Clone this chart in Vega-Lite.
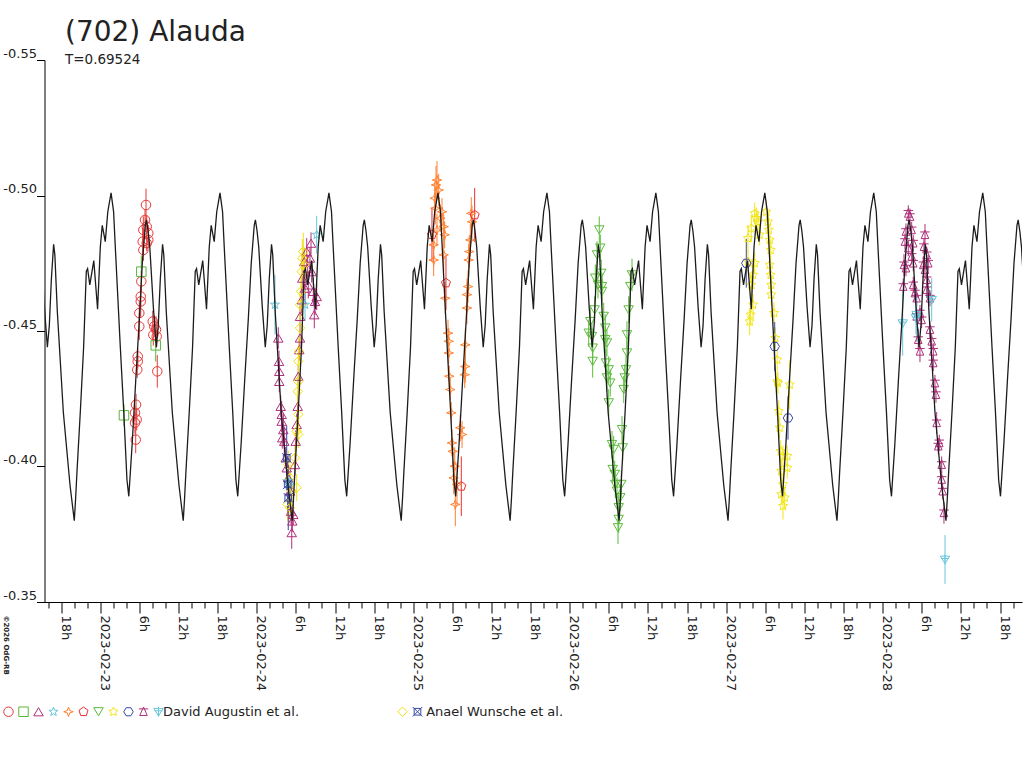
{
  "$schema": "https://vega.github.io/schema/vega-lite/v6.json",
  "autosize": "none",
  "width": 977.5,
  "height": 542,
  "padding": {"left": 44.5, "top": 60, "right": 2, "bottom": 166},
  "background": "white",
  "title": {
    "text": "(702) Alauda",
    "subtitle": "T=0.69524",
    "anchor": "start",
    "frame": "group",
    "dx": 20.5,
    "offset": -19,
    "font": "DejaVu Sans",
    "fontSize": 28,
    "fontWeight": "normal",
    "color": "#222222",
    "subtitleFont": "DejaVu Sans",
    "subtitleFontSize": 13.5,
    "subtitleColor": "#222222",
    "subtitlePadding": 6
  },
  "config": {
    "view": {"stroke": null},
    "font": "DejaVu Sans",
    "axis": {"domainColor": "#000000", "tickColor": "#000000", "labelColor": "#222222", "grid": false, "labelFont": "DejaVu Sans", "labelFontSize": 13}
  },
  "datasets": {
    "model": [
      {"t": -9.12, "m": -0.481}, {"t": -8.58, "m": -0.459}, {"t": -8.12, "m": -0.444}, {"t": -7.82, "m": -0.452}, {"t": -7.51, "m": -0.469}, {"t": -7.16, "m": -0.482}, {"t": -6.97, "m": -0.478}, {"t": -6.59, "m": -0.457}, {"t": -5.67, "m": -0.42}, {"t": -4.64, "m": -0.393},
      {"t": -3.99, "m": -0.38}, {"t": -3.79, "m": -0.388}, {"t": -3.58, "m": -0.398}, {"t": -3.07, "m": -0.42}, {"t": -2.56, "m": -0.444}, {"t": -2.15, "m": -0.472}, {"t": -1.95, "m": -0.473}, {"t": -1.61, "m": -0.467}, {"t": -1.0, "m": -0.476}, {"t": -0.42, "m": -0.458}, {"t": 0.0, "m": -0.481}, {"t": 0.3, "m": -0.489}, {"t": 0.76, "m": -0.483}, {"t": 1.15, "m": -0.494}, {"t": 1.65, "m": -0.501}, {"t": 2.04, "m": -0.494}, {"t": 2.3, "m": -0.481}, {"t": 3.07, "m": -0.444}, {"t": 3.6, "m": -0.42}, {"t": 4.09, "m": -0.395}, {"t": 4.37, "m": -0.389}, {"t": 4.88, "m": -0.408}, {"t": 5.44, "m": -0.432}, {"t": 5.98, "m": -0.454}, {"t": 6.44, "m": -0.475}, {"t": 6.9, "m": -0.489}, {"t": 7.08, "m": -0.491}, {"t": 7.33, "m": -0.487}, {"t": 7.59, "m": -0.481}, {"t": 8.13, "m": -0.459}, {"t": 8.59, "m": -0.444}, {"t": 8.89, "m": -0.452}, {"t": 9.2, "m": -0.469}, {"t": 9.55, "m": -0.482}, {"t": 9.74, "m": -0.478}, {"t": 10.12, "m": -0.457}, {"t": 11.04, "m": -0.42}, {"t": 12.07, "m": -0.393},
      {"t": 12.72, "m": -0.38}, {"t": 12.92, "m": -0.388}, {"t": 13.13, "m": -0.398}, {"t": 13.64, "m": -0.42}, {"t": 14.15, "m": -0.444}, {"t": 14.56, "m": -0.472}, {"t": 14.76, "m": -0.473}, {"t": 15.1, "m": -0.467}, {"t": 15.71, "m": -0.476}, {"t": 16.29, "m": -0.458}, {"t": 16.71, "m": -0.481}, {"t": 17.01, "m": -0.489}, {"t": 17.47, "m": -0.483}, {"t": 17.86, "m": -0.494}, {"t": 18.36, "m": -0.501}, {"t": 18.75, "m": -0.494}, {"t": 19.01, "m": -0.481}, {"t": 19.78, "m": -0.444}, {"t": 20.31, "m": -0.42}, {"t": 20.8, "m": -0.395}, {"t": 21.08, "m": -0.389}, {"t": 21.59, "m": -0.408}, {"t": 22.15, "m": -0.432}, {"t": 22.69, "m": -0.454}, {"t": 23.15, "m": -0.475}, {"t": 23.61, "m": -0.489}, {"t": 23.79, "m": -0.491}, {"t": 24.04, "m": -0.487}, {"t": 24.3, "m": -0.481}, {"t": 24.84, "m": -0.459}, {"t": 25.3, "m": -0.444}, {"t": 25.6, "m": -0.452}, {"t": 25.91, "m": -0.469}, {"t": 26.26, "m": -0.482}, {"t": 26.45, "m": -0.478}, {"t": 26.83, "m": -0.457}, {"t": 27.75, "m": -0.42}, {"t": 28.78, "m": -0.393},
      {"t": 29.43, "m": -0.38}, {"t": 29.63, "m": -0.388}, {"t": 29.84, "m": -0.398}, {"t": 30.35, "m": -0.42}, {"t": 30.86, "m": -0.444}, {"t": 31.27, "m": -0.472}, {"t": 31.47, "m": -0.473}, {"t": 31.81, "m": -0.467}, {"t": 32.42, "m": -0.476}, {"t": 33.0, "m": -0.458}, {"t": 33.42, "m": -0.481}, {"t": 33.72, "m": -0.489}, {"t": 34.18, "m": -0.483}, {"t": 34.57, "m": -0.494}, {"t": 35.07, "m": -0.501}, {"t": 35.46, "m": -0.494}, {"t": 35.72, "m": -0.481}, {"t": 36.49, "m": -0.444}, {"t": 37.02, "m": -0.42}, {"t": 37.51, "m": -0.395}, {"t": 37.79, "m": -0.389}, {"t": 38.3, "m": -0.408}, {"t": 38.86, "m": -0.432}, {"t": 39.4, "m": -0.454}, {"t": 39.86, "m": -0.475}, {"t": 40.32, "m": -0.489}, {"t": 40.5, "m": -0.491}, {"t": 40.75, "m": -0.487}, {"t": 41.01, "m": -0.481}, {"t": 41.55, "m": -0.459}, {"t": 42.01, "m": -0.444}, {"t": 42.31, "m": -0.452}, {"t": 42.62, "m": -0.469}, {"t": 42.97, "m": -0.482}, {"t": 43.16, "m": -0.478}, {"t": 43.54, "m": -0.457}, {"t": 44.46, "m": -0.42}, {"t": 45.49, "m": -0.393},
      {"t": 46.15, "m": -0.38}, {"t": 46.35, "m": -0.388}, {"t": 46.56, "m": -0.398}, {"t": 47.07, "m": -0.42}, {"t": 47.58, "m": -0.444}, {"t": 47.99, "m": -0.472}, {"t": 48.19, "m": -0.473}, {"t": 48.53, "m": -0.467}, {"t": 49.14, "m": -0.476}, {"t": 49.72, "m": -0.458}, {"t": 50.14, "m": -0.481}, {"t": 50.44, "m": -0.489}, {"t": 50.9, "m": -0.483}, {"t": 51.29, "m": -0.494}, {"t": 51.79, "m": -0.501}, {"t": 52.18, "m": -0.494}, {"t": 52.44, "m": -0.481}, {"t": 53.21, "m": -0.444}, {"t": 53.74, "m": -0.42}, {"t": 54.23, "m": -0.395}, {"t": 54.51, "m": -0.389}, {"t": 55.02, "m": -0.408}, {"t": 55.58, "m": -0.432}, {"t": 56.12, "m": -0.454}, {"t": 56.58, "m": -0.475}, {"t": 57.04, "m": -0.489}, {"t": 57.22, "m": -0.491}, {"t": 57.47, "m": -0.487}, {"t": 57.73, "m": -0.481}, {"t": 58.27, "m": -0.459}, {"t": 58.73, "m": -0.444}, {"t": 59.03, "m": -0.452}, {"t": 59.34, "m": -0.469}, {"t": 59.69, "m": -0.482}, {"t": 59.88, "m": -0.478}, {"t": 60.26, "m": -0.457}, {"t": 61.18, "m": -0.42}, {"t": 62.21, "m": -0.393},
      {"t": 62.86, "m": -0.38}, {"t": 63.06, "m": -0.388}, {"t": 63.27, "m": -0.398}, {"t": 63.78, "m": -0.42}, {"t": 64.29, "m": -0.444}, {"t": 64.7, "m": -0.472}, {"t": 64.9, "m": -0.473}, {"t": 65.24, "m": -0.467}, {"t": 65.85, "m": -0.476}, {"t": 66.43, "m": -0.458}, {"t": 66.85, "m": -0.481}, {"t": 67.15, "m": -0.489}, {"t": 67.61, "m": -0.483}, {"t": 68.0, "m": -0.494}, {"t": 68.5, "m": -0.501}, {"t": 68.89, "m": -0.494}, {"t": 69.15, "m": -0.481}, {"t": 69.92, "m": -0.444}, {"t": 70.45, "m": -0.42}, {"t": 70.94, "m": -0.395}, {"t": 71.22, "m": -0.389}, {"t": 71.73, "m": -0.408}, {"t": 72.29, "m": -0.432}, {"t": 72.83, "m": -0.454}, {"t": 73.29, "m": -0.475}, {"t": 73.75, "m": -0.489}, {"t": 73.93, "m": -0.491}, {"t": 74.18, "m": -0.487}, {"t": 74.44, "m": -0.481}, {"t": 74.98, "m": -0.459}, {"t": 75.44, "m": -0.444}, {"t": 75.74, "m": -0.452}, {"t": 76.05, "m": -0.469}, {"t": 76.4, "m": -0.482}, {"t": 76.59, "m": -0.478}, {"t": 76.97, "m": -0.457}, {"t": 77.89, "m": -0.42}, {"t": 78.92, "m": -0.393},
      {"t": 79.57, "m": -0.38}, {"t": 79.77, "m": -0.388}, {"t": 79.98, "m": -0.398}, {"t": 80.49, "m": -0.42}, {"t": 81.0, "m": -0.444}, {"t": 81.41, "m": -0.472}, {"t": 81.61, "m": -0.473}, {"t": 81.95, "m": -0.467}, {"t": 82.56, "m": -0.476}, {"t": 83.14, "m": -0.458}, {"t": 83.56, "m": -0.481}, {"t": 83.86, "m": -0.489}, {"t": 84.32, "m": -0.483}, {"t": 84.71, "m": -0.494}, {"t": 85.21, "m": -0.501}, {"t": 85.6, "m": -0.494}, {"t": 85.86, "m": -0.481}, {"t": 86.63, "m": -0.444}, {"t": 87.16, "m": -0.42}, {"t": 87.65, "m": -0.395}, {"t": 87.93, "m": -0.389}, {"t": 88.44, "m": -0.408}, {"t": 89.0, "m": -0.432}, {"t": 89.54, "m": -0.454}, {"t": 90.0, "m": -0.475}, {"t": 90.46, "m": -0.489}, {"t": 90.64, "m": -0.491}, {"t": 90.89, "m": -0.487}, {"t": 91.15, "m": -0.481}, {"t": 91.69, "m": -0.459}, {"t": 92.15, "m": -0.444}, {"t": 92.45, "m": -0.452}, {"t": 92.76, "m": -0.469}, {"t": 93.11, "m": -0.482}, {"t": 93.3, "m": -0.478}, {"t": 93.68, "m": -0.457}, {"t": 94.6, "m": -0.42}, {"t": 95.63, "m": -0.393},
      {"t": 96.28, "m": -0.38}, {"t": 96.48, "m": -0.388}, {"t": 96.69, "m": -0.398}, {"t": 97.2, "m": -0.42}, {"t": 97.71, "m": -0.444}, {"t": 98.12, "m": -0.472}, {"t": 98.32, "m": -0.473}, {"t": 98.66, "m": -0.467}, {"t": 99.27, "m": -0.476}, {"t": 99.85, "m": -0.458}, {"t": 100.27, "m": -0.481}, {"t": 100.57, "m": -0.489}, {"t": 101.03, "m": -0.483}, {"t": 101.42, "m": -0.494}, {"t": 101.92, "m": -0.501}, {"t": 102.31, "m": -0.494}, {"t": 102.57, "m": -0.481}, {"t": 103.34, "m": -0.444}, {"t": 103.87, "m": -0.42}, {"t": 104.36, "m": -0.395}, {"t": 104.64, "m": -0.389}, {"t": 105.15, "m": -0.408}, {"t": 105.71, "m": -0.432}, {"t": 106.25, "m": -0.454}, {"t": 106.71, "m": -0.475}, {"t": 107.17, "m": -0.489}, {"t": 107.35, "m": -0.491}, {"t": 107.6, "m": -0.487}, {"t": 107.86, "m": -0.481}, {"t": 108.4, "m": -0.459}, {"t": 108.86, "m": -0.444}, {"t": 109.16, "m": -0.452}, {"t": 109.47, "m": -0.469}, {"t": 109.82, "m": -0.482}, {"t": 110.01, "m": -0.478}, {"t": 110.39, "m": -0.457}, {"t": 111.31, "m": -0.42}, {"t": 112.34, "m": -0.393},
      {"t": 112.99, "m": -0.38}, {"t": 113.19, "m": -0.388}, {"t": 113.4, "m": -0.398}, {"t": 113.91, "m": -0.42}, {"t": 114.42, "m": -0.444}, {"t": 114.83, "m": -0.472}, {"t": 115.03, "m": -0.473}, {"t": 115.37, "m": -0.467}, {"t": 115.98, "m": -0.476}, {"t": 116.56, "m": -0.458}, {"t": 116.98, "m": -0.481}, {"t": 117.28, "m": -0.489}, {"t": 117.74, "m": -0.483}, {"t": 118.13, "m": -0.494}, {"t": 118.63, "m": -0.501}, {"t": 119.02, "m": -0.494}, {"t": 119.28, "m": -0.481}, {"t": 120.05, "m": -0.444}, {"t": 120.58, "m": -0.42}, {"t": 121.07, "m": -0.395}, {"t": 121.35, "m": -0.389}, {"t": 121.86, "m": -0.408}, {"t": 122.42, "m": -0.432}, {"t": 122.96, "m": -0.454}, {"t": 123.42, "m": -0.475}, {"t": 123.88, "m": -0.489}, {"t": 124.06, "m": -0.491}, {"t": 124.31, "m": -0.487}, {"t": 124.57, "m": -0.481}, {"t": 125.11, "m": -0.459}, {"t": 125.57, "m": -0.444}, {"t": 125.87, "m": -0.452}, {"t": 126.18, "m": -0.469}, {"t": 126.53, "m": -0.482}, {"t": 126.72, "m": -0.478}, {"t": 127.1, "m": -0.457}, {"t": 128.02, "m": -0.42}, {"t": 129.05, "m": -0.393},
      {"t": 129.71, "m": -0.38}, {"t": 129.91, "m": -0.388}, {"t": 130.12, "m": -0.398}, {"t": 130.63, "m": -0.42}, {"t": 131.14, "m": -0.444}, {"t": 131.55, "m": -0.472}, {"t": 131.75, "m": -0.473}, {"t": 132.09, "m": -0.467}, {"t": 132.7, "m": -0.476}, {"t": 133.28, "m": -0.458}, {"t": 133.7, "m": -0.481}, {"t": 134.0, "m": -0.489}, {"t": 134.46, "m": -0.483}, {"t": 134.85, "m": -0.494}, {"t": 135.35, "m": -0.501}, {"t": 135.74, "m": -0.494}, {"t": 136.0, "m": -0.481}, {"t": 136.77, "m": -0.444}, {"t": 137.3, "m": -0.42}, {"t": 137.79, "m": -0.395}, {"t": 138.07, "m": -0.389}, {"t": 138.58, "m": -0.408}, {"t": 139.14, "m": -0.432}, {"t": 139.68, "m": -0.454}, {"t": 140.14, "m": -0.475}, {"t": 140.6, "m": -0.489}, {"t": 140.78, "m": -0.491}, {"t": 141.03, "m": -0.487}, {"t": 141.29, "m": -0.481}, {"t": 141.83, "m": -0.459}
    ],
    "obs": [
      {"s": "A1", "t": 5.43, "m": -0.4099, "e": 0.005}, {"s": "A1", "t": 5.32, "m": -0.4161, "e": 0.004}, {"s": "A1", "t": 5.58, "m": -0.4173, "e": 0.004}, {"s": "A1", "t": 5.32, "m": -0.4198, "e": 0.003}, {"s": "A1", "t": 5.48, "m": -0.4228, "e": 0.004}, {"s": "A1", "t": 5.67, "m": -0.4357, "e": 0.003}, {"s": "A1", "t": 5.74, "m": -0.4388, "e": 0.003}, {"s": "A1", "t": 5.74, "m": -0.4406, "e": 0.003}, {"s": "A1", "t": 5.98, "m": -0.4517, "e": 0.005}, {"s": "A1", "t": 5.98, "m": -0.4566, "e": 0.004}, {"s": "A1", "t": 6.2, "m": -0.4609, "e": 0.006}, {"s": "A1", "t": 6.2, "m": -0.4627, "e": 0.004}, {"s": "A1", "t": 6.29, "m": -0.4683, "e": 0.004}, {"s": "A1", "t": 6.6, "m": -0.4799, "e": 0.004}, {"s": "A1", "t": 6.5, "m": -0.483, "e": 0.005}, {"s": "A1", "t": 7.12, "m": -0.4824, "e": 0.003}, {"s": "A1", "t": 6.6, "m": -0.4873, "e": 0.005}, {"s": "A1", "t": 7.36, "m": -0.4861, "e": 0.003}, {"s": "A1", "t": 6.86, "m": -0.491, "e": 0.004}, {"s": "A1", "t": 7.01, "m": -0.4965, "e": 0.006}, {"s": "A1", "t": 7.36, "m": -0.4836, "e": 0.003}, {"s": "A1", "t": 7.12, "m": -0.4885, "e": 0.004}, {"s": "A1", "t": 8.04, "m": -0.4535, "e": 0.004}, {"s": "A1", "t": 8.28, "m": -0.4517, "e": 0.004}, {"s": "A1", "t": 8.54, "m": -0.4505, "e": 0.005}, {"s": "A1", "t": 8.13, "m": -0.4486, "e": 0.004}, {"s": "A1", "t": 8.65, "m": -0.448, "e": 0.004}, {"s": "A1", "t": 8.74, "m": -0.4351, "e": 0.006},
      {"s": "A2", "t": 6.29, "m": -0.4719, "e": 0.006}, {"s": "A2", "t": 8.5, "m": -0.4447, "e": 0.006}, {"s": "A2", "t": 3.63, "m": -0.4189, "e": 0.004},
      {"s": "A3", "t": 27.3, "m": -0.4474, "e": 0.004}, {"s": "A3", "t": 27.41, "m": -0.4388, "e": 0.004}, {"s": "A3", "t": 27.45, "m": -0.4351, "e": 0.004}, {"s": "A3", "t": 27.45, "m": -0.4314, "e": 0.004}, {"s": "A3", "t": 27.67, "m": -0.4222, "e": 0.004}, {"s": "A3", "t": 27.82, "m": -0.4192, "e": 0.005}, {"s": "A3", "t": 27.82, "m": -0.4167, "e": 0.004}, {"s": "A3", "t": 28.07, "m": -0.4136, "e": 0.006}, {"s": "A3", "t": 27.91, "m": -0.4106, "e": 0.004}, {"s": "A3", "t": 28.22, "m": -0.4093, "e": 0.005}, {"s": "A3", "t": 28.44, "m": -0.4032, "e": 0.004}, {"s": "A3", "t": 28.59, "m": -0.3995, "e": 0.004}, {"s": "A3", "t": 28.83, "m": -0.3958, "e": 0.005}, {"s": "A3", "t": 29.1, "m": -0.3909, "e": 0.004}, {"s": "A3", "t": 29.25, "m": -0.3835, "e": 0.005}, {"s": "A3", "t": 29.45, "m": -0.3799, "e": 0.004}, {"s": "A3", "t": 29.36, "m": -0.3756, "e": 0.006}, {"s": "A3", "t": 29.6, "m": -0.3823, "e": 0.004}, {"s": "A3", "t": 29.86, "m": -0.4007, "e": 0.004}, {"s": "A3", "t": 29.97, "m": -0.4093, "e": 0.004}, {"s": "A3", "t": 30.12, "m": -0.4155, "e": 0.004}, {"s": "A3", "t": 30.28, "m": -0.4222, "e": 0.004}, {"s": "A3", "t": 30.37, "m": -0.4333, "e": 0.004}, {"s": "A3", "t": 30.52, "m": -0.4431, "e": 0.004}, {"s": "A3", "t": 30.63, "m": -0.4474, "e": 0.004}, {"s": "A3", "t": 30.63, "m": -0.4554, "e": 0.004}, {"s": "A3", "t": 30.89, "m": -0.4615, "e": 0.005}, {"s": "A3", "t": 30.98, "m": -0.4695, "e": 0.005}, {"s": "A3", "t": 31.29, "m": -0.4756, "e": 0.005}, {"s": "A3", "t": 31.66, "m": -0.4793, "e": 0.005}, {"s": "A3", "t": 32.32, "m": -0.4824, "e": 0.004}, {"s": "A3", "t": 32.16, "m": -0.4769, "e": 0.004}, {"s": "A3", "t": 31.9, "m": -0.467, "e": 0.005}, {"s": "A3", "t": 32.42, "m": -0.4719, "e": 0.004}, {"s": "A3", "t": 32.67, "m": -0.4646, "e": 0.005}, {"s": "A3", "t": 32.93, "m": -0.4609, "e": 0.005}, {"s": "A3", "t": 32.82, "m": -0.456, "e": 0.005}, {"s": "A3", "t": 33.19, "m": -0.4627, "e": 0.005}, {"s": "A3", "t": 31.4, "m": -0.4658, "e": 0.005}, {"s": "A3", "t": 31.81, "m": -0.4732, "e": 0.005},
      {"s": "A4", "t": 26.79, "m": -0.4597, "e": 0.011}, {"s": "A4", "t": 33.19, "m": -0.4855, "e": 0.007}, {"s": "A4", "t": 31.4, "m": -0.4597, "e": 0.006}, {"s": "A4", "t": 29.1, "m": -0.3934, "e": 0.005}, {"s": "A4", "t": 28.83, "m": -0.3946, "e": 0.005},
      {"s": "A5", "t": 51.64, "m": -0.5057, "e": 0.007}, {"s": "A5", "t": 51.49, "m": -0.5039, "e": 0.007}, {"s": "A5", "t": 51.9, "m": -0.502, "e": 0.006}, {"s": "A5", "t": 51.29, "m": -0.499, "e": 0.006}, {"s": "A5", "t": 51.38, "m": -0.4953, "e": 0.006}, {"s": "A5", "t": 52.41, "m": -0.494, "e": 0.005}, {"s": "A5", "t": 52.15, "m": -0.4916, "e": 0.005}, {"s": "A5", "t": 52.67, "m": -0.4885, "e": 0.005}, {"s": "A5", "t": 51.64, "m": -0.4873, "e": 0.006}, {"s": "A5", "t": 52.82, "m": -0.4855, "e": 0.005}, {"s": "A5", "t": 51.13, "m": -0.4818, "e": 0.008}, {"s": "A5", "t": 52.67, "m": -0.4781, "e": 0.006}, {"s": "A5", "t": 51.13, "m": -0.4762, "e": 0.006}, {"s": "A5", "t": 52.91, "m": -0.4621, "e": 0.006}, {"s": "A5", "t": 53.33, "m": -0.4492, "e": 0.005}, {"s": "A5", "t": 53.44, "m": -0.4462, "e": 0.005}, {"s": "A5", "t": 53.44, "m": -0.4419, "e": 0.004}, {"s": "A5", "t": 53.53, "m": -0.4333, "e": 0.004}, {"s": "A5", "t": 53.68, "m": -0.4284, "e": 0.004}, {"s": "A5", "t": 53.83, "m": -0.4198, "e": 0.004}, {"s": "A5", "t": 53.94, "m": -0.4087, "e": 0.005}, {"s": "A5", "t": 54.05, "m": -0.4056, "e": 0.005}, {"s": "A5", "t": 54.36, "m": -0.4001, "e": 0.007}, {"s": "A5", "t": 54.2, "m": -0.3958, "e": 0.006}, {"s": "A5", "t": 54.45, "m": -0.386, "e": 0.008}, {"s": "A5", "t": 54.71, "m": -0.3934, "e": 0.008}, {"s": "A5", "t": 55.21, "m": -0.4143, "e": 0.005}, {"s": "A5", "t": 55.48, "m": -0.4118, "e": 0.005}, {"s": "A5", "t": 55.89, "m": -0.4339, "e": 0.005}, {"s": "A5", "t": 55.98, "m": -0.4369, "e": 0.006}, {"s": "A5", "t": 55.98, "m": -0.4449, "e": 0.006}, {"s": "A5", "t": 56.24, "m": -0.4585, "e": 0.006}, {"s": "A5", "t": 56.24, "m": -0.4634, "e": 0.006}, {"s": "A5", "t": 56.4, "m": -0.4664, "e": 0.006}, {"s": "A5", "t": 56.5, "m": -0.4762, "e": 0.006}, {"s": "A5", "t": 56.6, "m": -0.4793, "e": 0.006}, {"s": "A5", "t": 56.75, "m": -0.4836, "e": 0.006}, {"s": "A5", "t": 56.9, "m": -0.4934, "e": 0.006}, {"s": "A5", "t": 57.01, "m": -0.4903, "e": 0.006},
      {"s": "A6", "t": 50.87, "m": -0.4855, "e": 0.01}, {"s": "A6", "t": 53.02, "m": -0.4677, "e": 0.01}, {"s": "A6", "t": 57.42, "m": -0.4928, "e": 0.01}, {"s": "A6", "t": 55.37, "m": -0.3927, "e": 0.011},
      {"s": "A7", "t": 76.53, "m": -0.4873, "e": 0.005}, {"s": "A7", "t": 76.69, "m": -0.4806, "e": 0.005}, {"s": "A7", "t": 76.18, "m": -0.4781, "e": 0.005}, {"s": "A7", "t": 76.84, "m": -0.4713, "e": 0.005}, {"s": "A7", "t": 75.92, "m": -0.4695, "e": 0.005}, {"s": "A7", "t": 76.33, "m": -0.467, "e": 0.005}, {"s": "A7", "t": 76.95, "m": -0.4664, "e": 0.005}, {"s": "A7", "t": 76.95, "m": -0.4646, "e": 0.005}, {"s": "A7", "t": 75.83, "m": -0.4578, "e": 0.005}, {"s": "A7", "t": 75.15, "m": -0.4535, "e": 0.005}, {"s": "A7", "t": 77.21, "m": -0.4554, "e": 0.005}, {"s": "A7", "t": 74.91, "m": -0.4492, "e": 0.005}, {"s": "A7", "t": 77.45, "m": -0.4511, "e": 0.005}, {"s": "A7", "t": 75.41, "m": -0.448, "e": 0.005}, {"s": "A7", "t": 77.45, "m": -0.4468, "e": 0.005}, {"s": "A7", "t": 75.52, "m": -0.4437, "e": 0.006}, {"s": "A7", "t": 77.71, "m": -0.4456, "e": 0.005}, {"s": "A7", "t": 75.52, "m": -0.4388, "e": 0.006}, {"s": "A7", "t": 77.56, "m": -0.4382, "e": 0.005}, {"s": "A7", "t": 77.98, "m": -0.4357, "e": 0.005}, {"s": "A7", "t": 77.71, "m": -0.4327, "e": 0.005}, {"s": "A7", "t": 78.22, "m": -0.4308, "e": 0.005}, {"s": "A7", "t": 77.98, "m": -0.4235, "e": 0.005}, {"s": "A7", "t": 78.48, "m": -0.4081, "e": 0.005}, {"s": "A7", "t": 78.74, "m": -0.4063, "e": 0.005}, {"s": "A7", "t": 78.59, "m": -0.3989, "e": 0.005}, {"s": "A7", "t": 78.9, "m": -0.3971, "e": 0.005}, {"s": "A7", "t": 78.99, "m": -0.3934, "e": 0.005}, {"s": "A7", "t": 79.25, "m": -0.3909, "e": 0.005}, {"s": "A7", "t": 79.91, "m": -0.3934, "e": 0.005}, {"s": "A7", "t": 79.75, "m": -0.3885, "e": 0.005}, {"s": "A7", "t": 79.51, "m": -0.3848, "e": 0.005}, {"s": "A7", "t": 79.51, "m": -0.3805, "e": 0.005}, {"s": "A7", "t": 79.4, "m": -0.3774, "e": 0.006}, {"s": "A7", "t": 80.02, "m": -0.4136, "e": 0.005}, {"s": "A7", "t": 80.12, "m": -0.4069, "e": 0.005}, {"s": "A7", "t": 80.28, "m": -0.4284, "e": 0.005}, {"s": "A7", "t": 80.43, "m": -0.4327, "e": 0.005}, {"s": "A7", "t": 80.63, "m": -0.4357, "e": 0.005}, {"s": "A7", "t": 80.78, "m": -0.4419, "e": 0.005}, {"s": "A7", "t": 80.78, "m": -0.4486, "e": 0.005}, {"s": "A7", "t": 81.04, "m": -0.4578, "e": 0.005}, {"s": "A7", "t": 81.29, "m": -0.4664, "e": 0.006}, {"s": "A7", "t": 81.55, "m": -0.4707, "e": 0.006},
      {"s": "A8", "t": 100.61, "m": -0.4916, "e": 0.004}, {"s": "A8", "t": 100.37, "m": -0.4934, "e": 0.004}, {"s": "A8", "t": 100.87, "m": -0.4903, "e": 0.004}, {"s": "A8", "t": 102.15, "m": -0.494, "e": 0.004}, {"s": "A8", "t": 102.41, "m": -0.4903, "e": 0.004}, {"s": "A8", "t": 99.85, "m": -0.4879, "e": 0.005}, {"s": "A8", "t": 99.34, "m": -0.4842, "e": 0.005}, {"s": "A8", "t": 101.13, "m": -0.4855, "e": 0.004}, {"s": "A8", "t": 100.37, "m": -0.475, "e": 0.004}, {"s": "A8", "t": 100.11, "m": -0.4707, "e": 0.004}, {"s": "A8", "t": 99.85, "m": -0.467, "e": 0.004}, {"s": "A8", "t": 100.11, "m": -0.4597, "e": 0.004}, {"s": "A8", "t": 99.75, "m": -0.456, "e": 0.004}, {"s": "A8", "t": 99.6, "m": -0.4535, "e": 0.005}, {"s": "A8", "t": 99.34, "m": -0.4756, "e": 0.004}, {"s": "A8", "t": 102.52, "m": -0.4873, "e": 0.004}, {"s": "A8", "t": 102.67, "m": -0.4836, "e": 0.004}, {"s": "A8", "t": 102.82, "m": -0.4799, "e": 0.004}, {"s": "A8", "t": 102.67, "m": -0.4744, "e": 0.004}, {"s": "A8", "t": 102.82, "m": -0.4707, "e": 0.004}, {"s": "A8", "t": 102.91, "m": -0.467, "e": 0.004}, {"s": "A8", "t": 102.91, "m": -0.4634, "e": 0.004}, {"s": "A8", "t": 103.33, "m": -0.4566, "e": 0.004}, {"s": "A8", "t": 103.53, "m": -0.4474, "e": 0.004}, {"s": "A8", "t": 103.83, "m": -0.4394, "e": 0.004}, {"s": "A8", "t": 103.83, "m": -0.4314, "e": 0.004}, {"s": "A8", "t": 103.94, "m": -0.4308, "e": 0.004}, {"s": "A8", "t": 104.05, "m": -0.4204, "e": 0.004}, {"s": "A8", "t": 104.2, "m": -0.4143, "e": 0.004}, {"s": "A8", "t": 104.36, "m": -0.4056, "e": 0.004}, {"s": "A8", "t": 104.71, "m": -0.4038, "e": 0.004}, {"s": "A8", "t": 105.37, "m": -0.4038, "e": 0.004}, {"s": "A8", "t": 104.45, "m": -0.3983, "e": 0.004}, {"s": "A8", "t": 105.37, "m": -0.3995, "e": 0.004}, {"s": "A8", "t": 104.71, "m": -0.3934, "e": 0.004}, {"s": "A8", "t": 104.45, "m": -0.3897, "e": 0.004}, {"s": "A8", "t": 104.97, "m": -0.3885, "e": 0.004}, {"s": "A8", "t": 104.71, "m": -0.3854, "e": 0.005}, {"s": "A8", "t": 105.74, "m": -0.4302, "e": 0.009},
      {"s": "A9", "t": 99.08, "m": -0.475, "e": 0.009}, {"s": "A9", "t": 103.44, "m": -0.4443, "e": 0.009}, {"s": "A9", "t": 105.48, "m": -0.4179, "e": 0.008},
      {"s": "A10", "t": 123.93, "m": -0.4934, "e": 0.003}, {"s": "A10", "t": 124.19, "m": -0.4922, "e": 0.003}, {"s": "A10", "t": 123.57, "m": -0.4867, "e": 0.003}, {"s": "A10", "t": 124.45, "m": -0.4873, "e": 0.003}, {"s": "A10", "t": 123.42, "m": -0.483, "e": 0.003}, {"s": "A10", "t": 124.69, "m": -0.4824, "e": 0.003}, {"s": "A10", "t": 123.93, "m": -0.4806, "e": 0.003}, {"s": "A10", "t": 124.45, "m": -0.4775, "e": 0.003}, {"s": "A10", "t": 123.27, "m": -0.4744, "e": 0.004}, {"s": "A10", "t": 123.57, "m": -0.4732, "e": 0.003}, {"s": "A10", "t": 124.69, "m": -0.475, "e": 0.003}, {"s": "A10", "t": 123.16, "m": -0.4664, "e": 0.003}, {"s": "A10", "t": 124.69, "m": -0.467, "e": 0.003}, {"s": "A10", "t": 124.95, "m": -0.464, "e": 0.003}, {"s": "A10", "t": 125.21, "m": -0.4621, "e": 0.003}, {"s": "A10", "t": 125.21, "m": -0.4554, "e": 0.003}, {"s": "A10", "t": 125.72, "m": -0.4566, "e": 0.003}, {"s": "A10", "t": 125.98, "m": -0.4541, "e": 0.003}, {"s": "A10", "t": 125.46, "m": -0.4468, "e": 0.004}, {"s": "A10", "t": 125.72, "m": -0.4425, "e": 0.004}, {"s": "A10", "t": 126.49, "m": -0.4855, "e": 0.004}, {"s": "A10", "t": 126.33, "m": -0.4811, "e": 0.003}, {"s": "A10", "t": 126.75, "m": -0.4781, "e": 0.003}, {"s": "A10", "t": 126.23, "m": -0.4744, "e": 0.003}, {"s": "A10", "t": 126.99, "m": -0.475, "e": 0.003}, {"s": "A10", "t": 126.49, "m": -0.4726, "e": 0.003}, {"s": "A10", "t": 126.75, "m": -0.4689, "e": 0.003}, {"s": "A10", "t": 126.75, "m": -0.4652, "e": 0.003}, {"s": "A10", "t": 127.25, "m": -0.4621, "e": 0.003}, {"s": "A10", "t": 127.25, "m": -0.4505, "e": 0.003}, {"s": "A10", "t": 127.52, "m": -0.4462, "e": 0.003}, {"s": "A10", "t": 127.76, "m": -0.4425, "e": 0.003}, {"s": "A10", "t": 127.76, "m": -0.4382, "e": 0.003}, {"s": "A10", "t": 128.02, "m": -0.4308, "e": 0.003}, {"s": "A10", "t": 128.17, "m": -0.4265, "e": 0.003}, {"s": "A10", "t": 128.28, "m": -0.4161, "e": 0.004}, {"s": "A10", "t": 128.68, "m": -0.4087, "e": 0.003}, {"s": "A10", "t": 129.05, "m": -0.4007, "e": 0.003}, {"s": "A10", "t": 129.05, "m": -0.3952, "e": 0.003}, {"s": "A10", "t": 129.2, "m": -0.3909, "e": 0.003}, {"s": "A10", "t": 129.4, "m": -0.3829, "e": 0.004}, {"s": "A10", "t": 128.53, "m": -0.4075, "e": 0.003},
      {"s": "A11", "t": 123.07, "m": -0.4529, "e": 0.012}, {"s": "A11", "t": 125.21, "m": -0.456, "e": 0.01}, {"s": "A11", "t": 127.52, "m": -0.4615, "e": 0.008}, {"s": "A11", "t": 125.11, "m": -0.4548, "e": 0.006}, {"s": "A11", "t": 129.56, "m": -0.3657, "e": 0.009},
      {"s": "B1", "t": 29.1, "m": -0.3848, "e": 0.005}, {"s": "B1", "t": 29.36, "m": -0.3909, "e": 0.005}, {"s": "B1", "t": 30.12, "m": -0.3922, "e": 0.005}, {"s": "B1", "t": 29.86, "m": -0.4032, "e": 0.005}, {"s": "B1", "t": 30.12, "m": -0.413, "e": 0.005}, {"s": "B1", "t": 30.37, "m": -0.4192, "e": 0.005}, {"s": "B1", "t": 30.28, "m": -0.4277, "e": 0.005}, {"s": "B1", "t": 30.37, "m": -0.4314, "e": 0.005}, {"s": "B1", "t": 30.37, "m": -0.4388, "e": 0.005}, {"s": "B1", "t": 30.48, "m": -0.4425, "e": 0.005}, {"s": "B1", "t": 30.63, "m": -0.4511, "e": 0.005}, {"s": "B1", "t": 30.63, "m": -0.4597, "e": 0.005}, {"s": "B1", "t": 30.78, "m": -0.4646, "e": 0.006}, {"s": "B1", "t": 30.89, "m": -0.4719, "e": 0.006}, {"s": "B1", "t": 30.98, "m": -0.4769, "e": 0.007}, {"s": "B1", "t": 31.29, "m": -0.4744, "e": 0.006}, {"s": "B1", "t": 31.13, "m": -0.4793, "e": 0.007}, {"s": "B1", "t": 28.83, "m": -0.4007, "e": 0.005}, {"s": "B1", "t": 29.1, "m": -0.3958, "e": 0.005}, {"s": "B1", "t": 28.74, "m": -0.386, "e": 0.006}, {"s": "B1", "t": 30.37, "m": -0.4118, "e": 0.005},
      {"s": "B2", "t": 28.59, "m": -0.4032, "e": 0.012}, {"s": "B2", "t": 28.74, "m": -0.3934, "e": 0.01}, {"s": "B2", "t": 28.83, "m": -0.3885, "e": 0.012}
    ]
  },
  "encoding": {
    "x": {
      "field": "t",
      "type": "quantitative",
      "scale": {"domain": [-8.56, 141.37], "nice": false, "zero": false},
      "axis": {
        "title": null,
        "values": [-8, -6, -4, -2, 0, 2, 4, 6, 8, 10, 12, 14, 16, 18, 20, 22, 24, 26, 28, 30, 32, 34, 36, 38, 40, 42, 44, 46, 48, 50, 52, 54, 56, 58, 60, 62, 64, 66, 68, 70, 72, 74, 76, 78, 80, 82, 84, 86, 88, 90, 92, 94, 96, 98, 100, 102, 104, 106, 108, 110, 112, 114, 116, 118, 120, 122, 124, 126, 128, 130, 132, 134, 136, 138, 140],
        "labelExpr": "datum.value % 24 === 0 ? '2023-02-' + (23 + datum.value / 24) : (datum.value % 6 === 0 ? ((datum.value % 24 + 24) % 24) + 'h' : '')",
        "labelAngle": 90,
        "labelAlign": "left",
        "labelBaseline": "alphabetic",
        "labelPadding": 2,
        "labelOverlap": false,
        "labelFlush": false,
        "labelBound": false,
        "tickSize": {"condition": {"test": "datum.value % 6 === 0", "value": 11}, "value": 6}
      }
    },
    "y": {
      "field": "m",
      "type": "quantitative",
      "scale": {"domain": [-0.55, -0.35], "reverse": true, "nice": false, "zero": false},
      "axis": {
        "values": [-0.55, -0.5, -0.45, -0.4, -0.35],
        "format": ".2f",
        "labelExpr": "replace(datum.label, '\u2212', '-')",
        "labelBaseline": "bottom",
        "labelPadding": 0,
        "tickSize": 8,
        "title": "©2026 OdG-RB",
        "titleAngle": 90,
        "titleX": -39.5,
        "titleY": 555,
        "titleAlign": "left",
        "titleBaseline": "middle",
        "titleFontSize": 7,
        "titleFontWeight": "bold",
        "titleColor": "#222222"
      }
    }
  },
  "layer": [
    {
      "data": {"name": "obs"},
      "mark": {"type": "errorbar", "thickness": 1},
      "encoding": {
        "yError": {"field": "e"},
        "color": {"field": "s", "type": "nominal", "legend": null}
      }
    },
    {
      "data": {"name": "obs"},
      "mark": {"type": "point", "filled": false, "strokeWidth": 1, "size": 90, "opacity": 1},
      "encoding": {
        "color": {
          "field": "s",
          "type": "nominal",
          "scale": {
            "domain": ["A1", "A2", "A3", "A4", "A5", "A6", "A7", "A8", "A9", "A10", "A11", "B1", "B2"],
            "range": ["#e83838", "#5cb83c", "#b0307c", "#66c6dc", "#ff8030", "#e83030", "#5cbc3c", "#f2e614", "#3848a8", "#b0307c", "#66c6dc", "#f0e010", "#3848a8"]
          },
          "legend": {
            "orient": "none",
            "legendX": -42.5,
            "legendY": 645,
            "direction": "horizontal",
            "columns": 13,
            "title": null,
            "padding": 0,
            "symbolSize": 90,
            "symbolStrokeWidth": 1,
            "labelOffset": -2,
            "columnPadding": 0,
            "labelLimit": 0,
            "labelFont": "DejaVu Sans",
            "labelFontSize": 13,
            "labelColor": "#222222",
            "labelExpr": "datum.value === 'A11' ? '\u200bDavid Augustin et al.\u00a0\u00a0\u00a0\u00a0\u00a0\u00a0\u00a0\u00a0\u00a0\u00a0\u00a0\u00a0\u00a0\u00a0\u00a0\u00a0\u00a0\u00a0\u00a0\u00a0\u00a0\u00a0\u00a0\u200b' : (datum.value === 'B2' ? '\u200b\u00a0Anael Wunsche et al.' : '')"
          }
        },
        "shape": {
          "field": "s",
          "type": "nominal",
          "scale": {
            "domain": ["A1", "A2", "A3", "A4", "A5", "A6", "A7", "A8", "A9", "A10", "A11", "B1", "B2"],
            "range": [
              "circle",
              "square",
              "triangle-up",
              "M0,-1L0.235,-0.324L0.951,-0.309L0.38,0.124L0.588,0.809L0,0.4L-0.588,0.809L-0.38,0.124L-0.951,-0.309L-0.235,-0.324Z",
              "M0,-1L0.25,-0.25L1,0L0.25,0.25L0,1L-0.25,0.25L-1,0L-0.25,-0.25Z",
              "M0,-1L0.951,-0.309L0.588,0.809L-0.588,0.809L-0.951,-0.309Z",
              "triangle-down",
              "M0,-1L0.3,-0.4L0.951,-0.309L0.48,0.15L0.588,0.809L0,0.5L-0.588,0.809L-0.48,0.15L-0.951,-0.309L-0.3,-0.4Z",
              "M-0.5,-0.85L0.5,-0.85L1,0L0.5,0.85L-0.5,0.85L-1,0Z",
              "M-1,-0.6L1,-0.6M0,-1L0.8,0.8L-0.8,0.8Z",
              "M-1,-0.7L1,-0.7L0,0.9Z M0,-1L0,1 M-0.8,-0.2L0.8,-0.2",
              "diamond",
              "M-0.7,-0.7L0.7,-0.7L0.7,0.7L-0.7,0.7Z M-1,-1L1,1 M1,-1L-1,1"
            ]
          }
        }
      }
    },
    {
      "data": {"name": "model"},
      "mark": {"type": "line", "color": "#1c1c1c", "strokeWidth": 1.3, "clip": true},
      "encoding": {}
    }
  ],
  "resolve": {"legend": {"color": "independent", "shape": "independent"}}
}
